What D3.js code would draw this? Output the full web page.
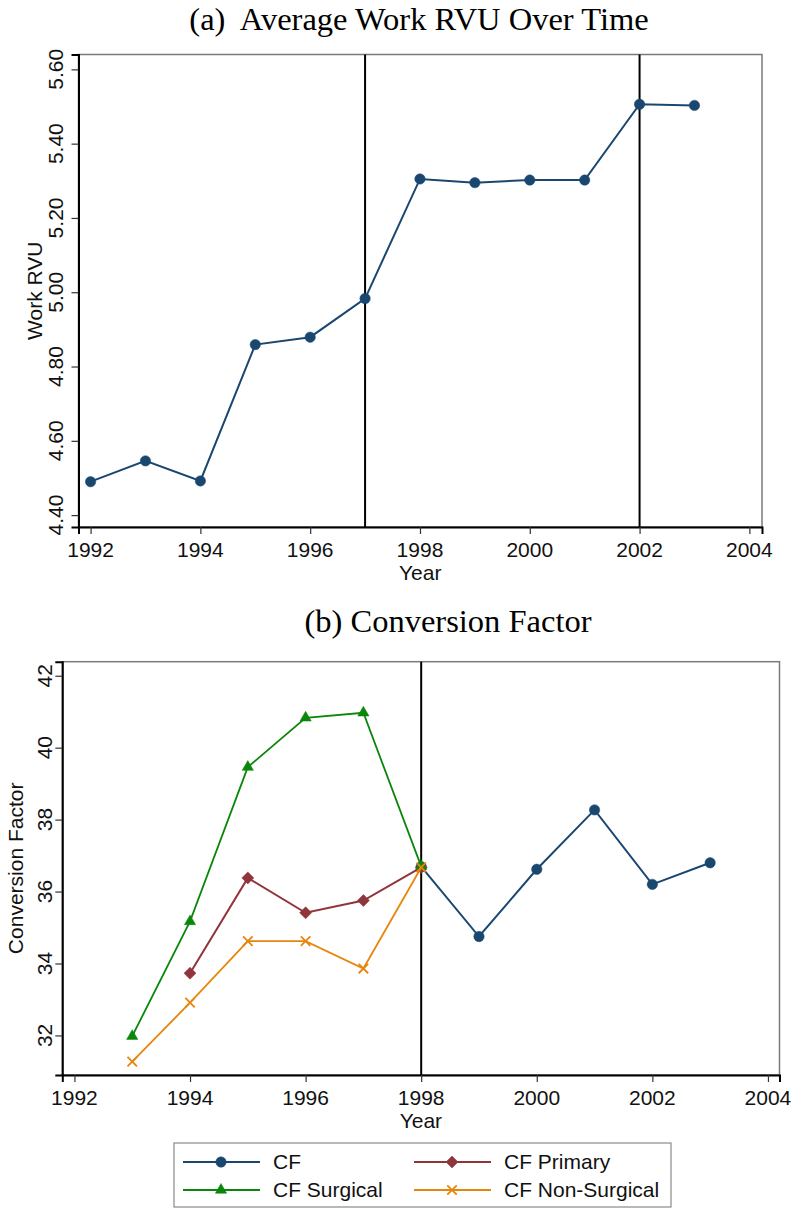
<!DOCTYPE html>
<html>
<head>
<meta charset="utf-8">
<script src="https://cdn.jsdelivr.net/npm/d3@7/dist/d3.min.js"></script>
<style>
  body { margin: 0; background: #fff; }
  svg { display: block; }
  .serif { font-family: 'Liberation Serif', 'Times New Roman', serif; }
  .sans { font-family: 'Liberation Sans', Arial, sans-serif; }
</style>
</head>
<body>
<svg id="chart" width="791" height="1212"></svg>
<script>
// panel (a) data
var rvuYears = [1992, 1993, 1994, 1995, 1996, 1997, 1998, 1999, 2000, 2001, 2002, 2003]
var workRvu = [4.490, 4.546, 4.492, 4.859, 4.879, 4.983, 5.305, 5.295, 5.302, 5.302, 5.506, 5.503]
var rvuYTicks = [4.4, 4.6, 4.8, 5.0, 5.2, 5.4, 5.6]
var rvuLines = [1997, 2002]

// panel (b) data
var cfYears = [1998, 1999, 2000, 2001, 2002, 2003]
var cf = [36.69, 34.75, 36.62, 38.27, 36.20, 36.80]
var primaryYears = [1994, 1995, 1996, 1997, 1998]
var cfPrimary = [33.73, 36.38, 35.41, 35.75, 36.67]
var surgicalYears = [1993, 1994, 1995, 1996, 1997, 1998]
var cfSurgical = [31.98, 35.17, 39.46, 40.83, 40.97, 36.70]
var nonSurgYears = [1993, 1994, 1995, 1996, 1997, 1998]
var cfNonSurgical = [31.27, 32.91, 34.62, 34.62, 33.86, 36.67]
var cfYTicks = [32, 34, 36, 38, 40, 42]
var cfLines = [1998]

var yearTicks = [1992, 1994, 1996, 1998, 2000, 2002, 2004]

var svg = d3.select('#chart')
var FS = 21

// draw one panel frame with axes, returns the scales
function drawFrame (box, xDom, yDom, yTicks, yFmt, vlines, opts) {
  var x = d3.scaleLinear().domain(xDom).range([box.left, box.right])
  var y = d3.scaleLinear().domain(yDom).range([box.bottom, box.top])
  var g = svg.append('g')

  g.append('rect')
    .attr('x', box.left).attr('y', box.top)
    .attr('width', box.right - box.left).attr('height', box.bottom - box.top)
    .attr('fill', 'none').attr('stroke', '#7a7a7a').attr('stroke-width', 1.5)

  // reference lines
  vlines.forEach(function (v) {
    g.append('line')
      .attr('x1', x(v)).attr('x2', x(v))
      .attr('y1', box.top).attr('y2', box.bottom)
      .attr('stroke', '#000').attr('stroke-width', 2)
  })

  // y axis
  var ya = g.append('g').attr('transform', 'translate(' + box.left + ',0)')
    .call(d3.axisLeft(y).tickValues(yTicks).tickSize(7).tickFormat(yFmt))
  ya.select('.domain').attr('stroke', '#000').attr('stroke-width', 2)
  ya.selectAll('.tick line').attr('stroke', '#333').attr('stroke-width', 1.2)
  ya.selectAll('.tick text').remove()
  yTicks.forEach(function (t) {
    g.append('text').attr('class', 'sans')
      .attr('transform', 'translate(' + opts.yLabX + ',' + y(t) + ') rotate(-90)')
      .attr('text-anchor', 'middle').attr('font-size', FS).attr('fill', '#111')
      .text(yFmt(t))
  })

  // x axis
  var xa = g.append('g').attr('transform', 'translate(0,' + box.bottom + ')')
    .call(d3.axisBottom(x).tickValues(yearTicks).tickSize(7).tickFormat(d3.format('d')))
  xa.select('.domain').attr('stroke', '#000').attr('stroke-width', 2)
  xa.selectAll('.tick line').attr('stroke', '#333').attr('stroke-width', 1.2)
  xa.selectAll('.tick text').remove()
  yearTicks.forEach(function (t) {
    g.append('text').attr('class', 'sans')
      .attr('x', x(t)).attr('y', box.bottom + 30)
      .attr('text-anchor', 'middle').attr('font-size', FS).attr('fill', '#111')
      .text(t)
  })

  g.append('text').attr('class', 'sans')
    .attr('x', (box.left + box.right) / 2).attr('y', box.bottom + 53)
    .attr('text-anchor', 'middle').attr('font-size', FS).attr('fill', '#111')
    .text('Year')
  g.append('text').attr('class', 'sans')
    .attr('transform', 'translate(' + opts.yTitleX + ',' + (box.top + box.bottom) / 2 + ') rotate(-90)')
    .attr('text-anchor', 'middle').attr('font-size', FS).attr('fill', '#111')
    .text(opts.yTitle)

  svg.append('text').attr('class', 'serif')
    .attr('x', opts.titleX).attr('y', opts.titleY)
    .attr('text-anchor', 'middle').attr('font-size', 32.5).attr('fill', '#000')
    .style('white-space', 'pre')
    .text(opts.title)

  return { x: x, y: y }
}

var markers = {
  circle: d3.symbol().type(d3.symbolCircle).size(85),
  diamond: d3.symbol().type(d3.symbolSquare).size(72),
  triangle: d3.symbol().type(d3.symbolTriangle).size(55),
  cross: d3.symbol().type(d3.symbolX).size(60)
}

function markerTransform (shape, px, py) {
  return 'translate(' + px + ',' + py + ')' + (shape === 'diamond' ? ' rotate(45)' : '')
}

function drawSeries (sc, xs, ys, color, shape, sw) {
  var pts = xs.map(function (d, i) { return [d, ys[i]] })
  var line = d3.line().x(function (d) { return sc.x(d[0]) }).y(function (d) { return sc.y(d[1]) })
  svg.append('path').datum(pts)
    .attr('d', line).attr('fill', 'none')
    .attr('stroke', color).attr('stroke-width', sw)
  svg.append('g').selectAll('path').data(pts).enter().append('path')
    .attr('transform', function (d) { return markerTransform(shape, sc.x(d[0]), sc.y(d[1])) })
    .attr('d', markers[shape])
    .attr('fill', shape === 'cross' ? 'none' : color)
    .attr('stroke', color)
    .attr('stroke-width', shape === 'cross' ? 1.8 : 0.5)
}

var navy = '#1a476f'
var maroon = '#90353b'
var green = '#0a870a'
var orange = '#e8850c'

// (a) Average Work RVU
var scA = drawFrame({ left: 78.5, right: 762, top: 54.5, bottom: 527 },
  [1991.78, 2004.23], [4.368, 5.640], rvuYTicks, d3.format('.2f'), rvuLines,
  { yLabX: 63, yTitleX: 42, yTitle: 'Work RVU', title: '(a)  Average Work RVU Over Time', titleX: 419, titleY: 30 })
drawSeries(scA, rvuYears, workRvu, navy, 'circle', 2)

// (b) Conversion Factor
var scB = drawFrame({ left: 62.3, right: 779.5, top: 661.7, bottom: 1075 },
  [1991.79, 2004.2], [30.9, 42.39], cfYTicks, d3.format('d'), cfLines,
  { yLabX: 52, yTitleX: 23, yTitle: 'Conversion Factor', title: '(b) Conversion Factor', titleX: 448, titleY: 632 })
drawSeries(scB, cfYears, cf, navy, 'circle', 2)
drawSeries(scB, primaryYears, cfPrimary, maroon, 'diamond', 2)
drawSeries(scB, surgicalYears, cfSurgical, green, 'triangle', 1.8)
drawSeries(scB, nonSurgYears, cfNonSurgical, orange, 'cross', 1.8)

// legend
var legendItems = [
  { label: 'CF', color: navy, shape: 'circle' },
  { label: 'CF Primary', color: maroon, shape: 'diamond' },
  { label: 'CF Surgical', color: green, shape: 'triangle' },
  { label: 'CF Non-Surgical', color: orange, shape: 'cross' }
]
var lg = svg.append('g')
lg.append('rect').attr('x', 174).attr('y', 1143).attr('width', 497).attr('height', 64)
  .attr('fill', '#fff').attr('stroke', '#8a8a8a').attr('stroke-width', 1.2)
legendItems.forEach(function (it, i) {
  var cx = 183 + (i % 2) * 231
  var cy = 1162 + Math.floor(i / 2) * 28
  lg.append('line').attr('x1', cx).attr('x2', cx + 77).attr('y1', cy).attr('y2', cy)
    .attr('stroke', it.color).attr('stroke-width', 2)
  lg.append('path').attr('transform', markerTransform(it.shape, cx + 38, cy))
    .attr('d', markers[it.shape])
    .attr('fill', it.shape === 'cross' ? 'none' : it.color)
    .attr('stroke', it.color).attr('stroke-width', it.shape === 'cross' ? 1.8 : 0.5)
  lg.append('text').attr('class', 'sans')
    .attr('x', cx + 90).attr('y', cy + 7)
    .attr('font-size', FS).attr('fill', '#111')
    .text(it.label)
})
</script>
</body>
</html>
